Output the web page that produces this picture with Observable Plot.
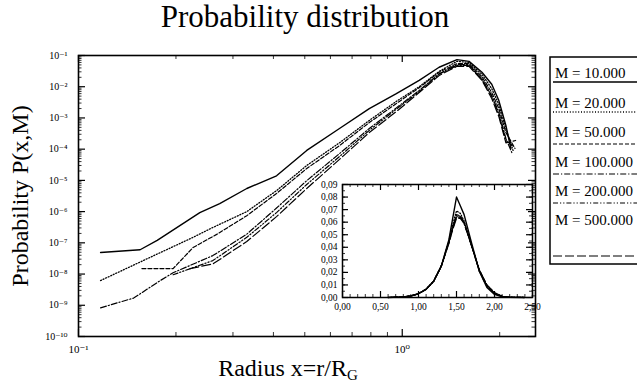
<!DOCTYPE html>
<html><head><meta charset="utf-8">
<script src="https://cdn.jsdelivr.net/npm/d3@7"></script>
<script src="https://cdn.jsdelivr.net/npm/@observablehq/plot@0.6"></script>
<style>
body{margin:0;background:#fff;}
#wrap{position:relative;width:637px;height:386px;overflow:hidden;font-family:"Liberation Serif","DejaVu Serif",serif;color:#000;background:#fff;}
#wrap > *{position:absolute;}
#title{left:0;width:610px;top:-1px;text-align:center;font-size:31px;line-height:36px;}
#xlabel{left:130px;width:316px;top:355px;text-align:center;font-size:24px;line-height:26px;}
#xlabel sub{font-size:15px;vertical-align:-4px;line-height:0;}
</style></head><body><div id="wrap"><div id="title">Probability distribution</div><div id="xlabel">Radius x=r/R<sub>G</sub></div></div>
<script>
// ---- data ----
const seriesNames = ["M = 10.000","M = 20.000","M = 50.000","M = 100.000","M = 200.000","M = 500.000"];
const dashes = [null, "1,1.8", "4,2", "6,2,1.2,2", "5,2,1.2,2,1.2,2", "9,3"];
const widths = [1.4, 1.3, 1.2, 1.2, 1.2, 1.2];

// main panel: x = r/R_G, P(x,M)
const x10k  = [0.117,0.155,0.175,0.237,0.273,0.331,0.409,0.507,0.640,0.791,0.959,1.128,1.30,1.476,1.608,1.763,1.89,1.988,2.09,2.165];
const p10k  = [4.9e-8,6.0e-8,1.2e-7,9.3e-7,1.8e-6,5.5e-6,1.4e-5,9.1e-5,4.6e-4,2.0e-3,6.0e-3,1.6e-2,4.2e-2,7.4e-2,6.5e-2,2.9e-2,1.2e-2,3.6e-3,5.8e-4,1.05e-4];
const x20k  = [0.117,0.163,0.226,0.260,0.331,0.409,0.507,0.640,0.791,0.959,1.128,1.30,1.476,1.608,1.763,1.89,1.988,2.09,2.20];
const p20k  = [6.2e-9,3.1e-8,1.5e-7,3.1e-7,1.0e-6,4.7e-6,3.0e-5,1.6e-4,8.3e-4,3.4e-3,1.0e-2,3.1e-2,6.5e-2,6.0e-2,2.5e-2,8.7e-3,2.7e-3,4.6e-4,9.1e-5];
const x50k  = [0.157,0.196,0.226,0.268,0.331,0.409,0.507,0.640,0.791,0.959,1.128,1.30,1.476,1.608,1.763,1.89,1.988,2.09,2.23];
const p50k  = [1.5e-8,1.5e-8,7.1e-8,1.9e-7,7.4e-7,3.8e-6,2.4e-5,1.3e-4,7.1e-4,2.9e-3,9.3e-3,2.9e-2,5.5e-2,5.5e-2,2.1e-2,6.5e-3,2.0e-3,3.4e-4,1.05e-4];
const x100k = [0.117,0.148,0.179,0.196,0.260,0.331,0.409,0.507,0.640,0.791,0.959,1.128,1.30,1.476,1.608,1.763,1.89,1.988,2.09,2.18];
const p100k = [8.3e-10,1.7e-9,6.2e-9,1.1e-8,3.9e-8,1.9e-7,1.3e-6,9.8e-6,7.2e-5,4.6e-4,2.1e-3,7.6e-3,2.6e-2,5.1e-2,5.1e-2,1.8e-2,5.2e-3,1.5e-3,2.2e-4,7.8e-5];
const x200k = [0.196,0.260,0.331,0.409,0.507,0.640,0.791,0.959,1.128,1.30,1.476,1.608,1.763,1.89,1.988,2.09,2.21];
const p200k = [9.5e-9,2.7e-8,1.5e-7,9.3e-7,7.4e-6,5.8e-5,4.0e-4,1.9e-3,7.1e-3,2.5e-2,4.8e-2,4.8e-2,1.7e-2,4.9e-3,1.3e-3,1.9e-4,1.2e-4];
const x500k = [0.221,0.260,0.331,0.409,0.507,0.640,0.791,0.959,1.128,1.30,1.476,1.608,1.763,1.89,1.988,2.09,2.24];
const p500k = [1.5e-8,2.1e-8,1.1e-7,6.9e-7,5.5e-6,4.7e-5,3.4e-4,1.6e-3,6.5e-3,2.3e-2,4.5e-2,4.5e-2,1.6e-2,4.2e-3,1.1e-3,1.6e-4,1.9e-4];

// inset: linear P(x,M)
const insetX = [0.6,0.8,0.9,1.0,1.1,1.2,1.3,1.4,1.45,1.5,1.55,1.6,1.7,1.8,1.9,2.0,2.1,2.2,2.4];
const i10k  = [0,0.0005,0.0013,0.003,0.0065,0.013,0.025,0.046,0.063,0.080,0.073,0.066,0.043,0.021,0.008,0.0025,0.0006,0.0001,0];
const i20k  = [0,0.0005,0.0012,0.003,0.0065,0.013,0.025,0.045,0.058,0.069,0.067,0.061,0.041,0.021,0.009,0.003,0.0008,0.0002,0];
const i50k  = [0,0.0005,0.0012,0.003,0.0066,0.013,0.025,0.044,0.056,0.066,0.065,0.060,0.041,0.021,0.009,0.003,0.0009,0.0002,0];
const i100k = [0,0.0005,0.0012,0.003,0.0066,0.013,0.025,0.044,0.055,0.065,0.064,0.060,0.041,0.022,0.009,0.0035,0.001,0.0002,0];
const i200k = [0,0.0005,0.0012,0.003,0.0066,0.013,0.025,0.044,0.055,0.064,0.064,0.059,0.041,0.022,0.010,0.0035,0.001,0.0002,0];
const i500k = [0,0.0005,0.0012,0.003,0.0066,0.013,0.025,0.043,0.054,0.063,0.063,0.059,0.041,0.022,0.010,0.004,0.001,0.0002,0];

// tick labels
const yMajor = [1e-1,1e-2,1e-3,1e-4,1e-5,1e-6,1e-7,1e-8,1e-9,1e-10];
const yLabels = ["10⁻¹","10⁻²","10⁻³","10⁻⁴","10⁻⁵","10⁻⁶","10⁻⁷","10⁻⁸","10⁻⁹","10⁻¹⁰"];
const xMajor = [0.1, 1];
const xLabels = ["10⁻¹","10⁰"];
const xMinor = [0.2,0.3,0.4,0.5,0.6,0.7,0.8,0.9,2];
const insetXTicks = [0,0.5,1,1.5,2,2.5];
const insetXLabels = ["0,00","0,50","1,00","1,50","2,00","2,50"];
const insetYTicks = [0,0.01,0.02,0.03,0.04,0.05,0.06,0.07,0.08,0.09];
const insetYLabels = ["0,00","0,01","0,02","0,03","0,04","0,05","0,06","0,07","0,08","0,09"];

// ---- build ----
const mainXs = [x10k,x20k,x50k,x100k,x200k,x500k];
const mainPs = [p10k,p20k,p50k,p100k,p200k,p500k];
const insetYs = [i10k,i20k,i50k,i100k,i200k,i500k];
const yMinor = [];
for (let e = -10; e < -1; e++) for (let m = 2; m <= 9; m++) yMinor.push(m * Math.pow(10, e));

const W = 637, H = 386, mL = 78, mR = 102, mT = 55, mB = 50;
const pw = W - mL - mR, ph = H - mT - mB;
const font = "Liberation Serif, DejaVu Serif, serif";

const lineMarks = (xs, ys) => seriesNames.map((s, i) => Plot.line(
  d3.zip(xs[i], ys[i]).map(([x, y]) => ({x, y, s})),
  {x: "x", y: "y", stroke: "#000", strokeWidth: widths[i], strokeDasharray: dashes[i] || undefined}));

const main = Plot.plot({
  width: W, height: H, marginLeft: mL, marginRight: mR, marginTop: mT, marginBottom: mB,
  x: {type: "log", domain: [0.1, 2.58]},
  y: {type: "log", domain: [1e-10, 1e-1]},
  style: {fontFamily: font, fontSize: "10px", color: "#000", background: "transparent"},
  marks: [
    ...lineMarks(mainXs, mainPs),
    Plot.tickY(yMajor, {y: d => d, insetRight: pw - 7, stroke: "#000", strokeWidth: 1.2}),
    Plot.tickY(yMinor, {y: d => d, insetRight: pw - 3.5, stroke: "#000", strokeWidth: 0.8}),
    Plot.tickY(yMajor, {y: d => d, insetLeft: pw - 7, stroke: "#000", strokeWidth: 1.2}),
    Plot.tickY(yMinor, {y: d => d, insetLeft: pw - 3.5, stroke: "#000", strokeWidth: 0.8}),
    Plot.tickX(xMajor, {x: d => d, insetTop: ph - 7, stroke: "#000", strokeWidth: 1.2}),
    Plot.tickX(xMinor, {x: d => d, insetTop: ph - 4, stroke: "#000", strokeWidth: 0.8}),
    Plot.tickX(xMajor, {x: d => d, insetBottom: ph - 7, stroke: "#000", strokeWidth: 1.2}),
    Plot.tickX(xMinor, {x: d => d, insetBottom: ph - 4, stroke: "#000", strokeWidth: 0.8}),
    Plot.axisY(yMajor, {anchor: "left", tickSize: 0, tickPadding: 11, fontSize: 10,
      tickFormat: d => yLabels[yMajor.indexOf(d)], label: null}),
    Plot.axisX(xMajor, {anchor: "bottom", tickSize: 0, tickPadding: 9, fontSize: 11,
      tickFormat: d => xLabels[xMajor.indexOf(d)], label: null}),
    Plot.frame({stroke: "#000", strokeWidth: 1.6}),
    Plot.text(["Probability P(x,M)"], {frameAnchor: "left", textAnchor: "middle", dx: -58, rotate: -90, fontSize: 24, fontFamily: font})
  ]
});
main.style.left = "0px"; main.style.top = "0px";
document.getElementById("wrap").appendChild(main);

// inset
const iL = 30, iR = 14, iT = 8, iB = 22, ipw = 190, iph = 113;
const insetXMinor = d3.range(0, 2.51, 0.1);
const insetYMinor = d3.range(0, 0.0901, 0.005);
const inset = Plot.plot({
  width: iL + ipw + iR, height: iT + iph + iB,
  marginLeft: iL, marginRight: iR, marginTop: iT, marginBottom: iB,
  x: {domain: [0, 2.5]},
  y: {domain: [0, 0.09]},
  style: {fontFamily: font, fontSize: "9px", color: "#000", background: "transparent"},
  marks: [
    ...lineMarks(seriesNames.map(() => insetX), insetYs),
    Plot.tickY(insetYTicks, {y: d => d, insetRight: ipw - 6, stroke: "#000", strokeWidth: 1.2}),
    Plot.tickY(insetYMinor, {y: d => d, insetRight: ipw - 3, stroke: "#000", strokeWidth: 0.8}),
    Plot.tickY(insetYTicks, {y: d => d, insetLeft: ipw - 6, stroke: "#000", strokeWidth: 1.2}),
    Plot.tickY(insetYMinor, {y: d => d, insetLeft: ipw - 3, stroke: "#000", strokeWidth: 0.8}),
    Plot.tickX(insetXTicks, {x: d => d, insetTop: iph - 6, stroke: "#000", strokeWidth: 1.2}),
    Plot.tickX(insetXMinor, {x: d => d, insetTop: iph - 3, stroke: "#000", strokeWidth: 0.8}),
    Plot.tickX(insetXTicks, {x: d => d, insetBottom: iph - 6, stroke: "#000", strokeWidth: 1.2}),
    Plot.tickX(insetXMinor, {x: d => d, insetBottom: iph - 3, stroke: "#000", strokeWidth: 0.8}),
    Plot.axisY(insetYTicks, {anchor: "left", tickSize: 0, tickPadding: 5, fontSize: 9.5,
      tickFormat: d => insetYLabels[insetYTicks.indexOf(d)], label: null}),
    Plot.axisX(insetXTicks, {anchor: "bottom", tickSize: 0, tickPadding: 6, fontSize: 9.5,
      tickFormat: d => insetXLabels[insetXTicks.indexOf(d)], label: null}),
    Plot.frame({stroke: "#000", strokeWidth: 1.5})
  ]
});
inset.style.left = (342 - iL) + "px"; inset.style.top = (184 - iT) + "px";
document.getElementById("wrap").appendChild(inset);

// legend
const legTextY = [73, 103, 132, 162, 191, 220];
const legLineY = [82, 112, 144, 174, 203, 256];
const leg = d3.create("svg").attr("width", 90).attr("height", 215)
  .style("left", "549px").style("top", "55px").style("overflow", "visible");
leg.append("rect").attr("x", 1).attr("y", 2).attr("width", 100).attr("height", 207)
  .attr("fill", "#fff").attr("stroke", "#000").attr("stroke-width", 1.5);
seriesNames.forEach((s, i) => {
  leg.append("text").attr("x", 6).attr("y", legTextY[i] - 55 + 5).text(s)
    .attr("font-family", font).attr("font-size", 15);
  leg.append("line").attr("x1", 4).attr("x2", 95).attr("y1", legLineY[i] - 55).attr("y2", legLineY[i] - 55)
    .attr("stroke", "#000").attr("stroke-width", widths[i]).attr("stroke-dasharray", dashes[i]);
});
document.getElementById("wrap").appendChild(leg.node());
</script></body></html>
